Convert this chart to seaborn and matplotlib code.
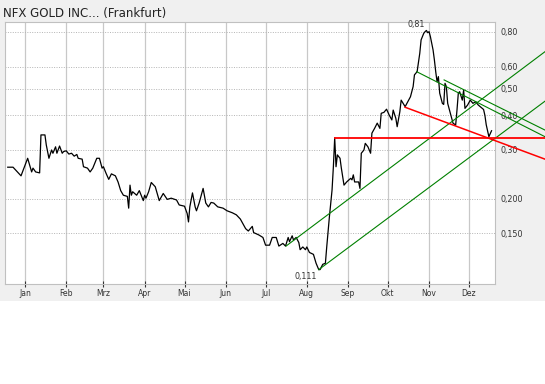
import numpy as np
import pandas as pd
import matplotlib
matplotlib.use("Agg")
import matplotlib.pyplot as plt
import matplotlib.dates as mdates
from matplotlib.ticker import FixedLocator, FixedFormatter, NullLocator, FuncFormatter
from matplotlib.patches import Rectangle
import seaborn as sns

# ---------------- data ----------------
title = "NFX GOLD INC... (Frankfurt)"
year_start = "2010-01-01"
month_labels = ["Jan", "Feb", "Mrz", "Apr", "Mai", "Jun",
                "Jul", "Aug", "Sep", "Okt", "Nov", "Dez"]

day_offsets = [1, 5, 11, 16, 19, 20, 22, 25, 26, 29, 30, 32, 34, 35, 37, 38, 40, 42, 43, 45,
               47, 49, 51, 53, 54, 57, 58, 61, 63, 65, 68, 70, 72, 73, 75, 77, 79, 82, 84, 86,
               88, 91, 92, 93, 94, 95, 98, 100, 103, 104, 105, 107, 109, 112, 115, 118, 121, 124, 128, 130,
               134, 136, 137, 138, 140, 142, 143, 145, 148, 150, 152, 154, 156, 159, 163, 166, 170, 173, 176, 180,
               182, 185, 186, 190, 193, 195, 198, 200, 203, 205, 208, 210, 212, 213, 215, 216, 218, 220, 221, 223,
               225, 226, 228, 231, 233, 235, 236, 238, 240, 241, 243, 245, 246, 247, 248, 249, 251, 252, 254, 256,
               259, 260, 261, 262, 265, 266, 267, 269, 270, 272, 274, 275, 277, 279, 281, 282, 284, 286, 288, 290,
               291, 293, 294, 296, 297, 300, 302, 304, 306, 307, 309, 311, 312, 314, 315, 316, 317, 318, 319, 321,
               322, 323, 324, 325, 326, 328, 329, 330, 331, 332, 334, 336, 338, 339, 340, 341, 343, 344, 345, 347,
               349, 351, 353, 355, 358, 359, 360, 361, 363, 365]
prices = [0.260, 0.260, 0.242, 0.280, 0.250, 0.258, 0.250, 0.248, 0.340, 0.340, 0.313, 0.280, 0.300, 0.292, 0.308, 0.292, 0.310, 0.292, 0.296, 0.298,
          0.290, 0.292, 0.285, 0.289, 0.280, 0.278, 0.261, 0.258, 0.250, 0.258, 0.280, 0.280, 0.258, 0.261, 0.247, 0.235, 0.246, 0.242, 0.230, 0.214,
          0.206, 0.204, 0.185, 0.224, 0.206, 0.212, 0.206, 0.214, 0.197, 0.206, 0.201, 0.212, 0.229, 0.221, 0.197, 0.209, 0.199, 0.201, 0.198, 0.190,
          0.188, 0.177, 0.165, 0.187, 0.210, 0.187, 0.181, 0.193, 0.218, 0.193, 0.187, 0.194, 0.193, 0.187, 0.185, 0.181, 0.178, 0.175, 0.169, 0.156,
          0.153, 0.159, 0.151, 0.148, 0.145, 0.136, 0.136, 0.145, 0.145, 0.135, 0.138, 0.135, 0.145, 0.140, 0.147, 0.142, 0.145, 0.139, 0.131, 0.134,
          0.131, 0.134, 0.128, 0.126, 0.117, 0.111, 0.111, 0.116, 0.117, 0.134, 0.172, 0.215, 0.261, 0.332, 0.261, 0.288, 0.280, 0.258, 0.224, 0.230,
          0.237, 0.234, 0.244, 0.230, 0.230, 0.218, 0.292, 0.300, 0.317, 0.308, 0.292, 0.345, 0.359, 0.375, 0.359, 0.407, 0.410, 0.421, 0.401, 0.385,
          0.418, 0.390, 0.364, 0.412, 0.454, 0.430, 0.448, 0.467, 0.508, 0.560, 0.575, 0.670, 0.749, 0.791, 0.802, 0.810, 0.795, 0.802, 0.769, 0.689,
          0.634, 0.575, 0.529, 0.552, 0.481, 0.442, 0.438, 0.522, 0.508, 0.442, 0.407, 0.375, 0.369, 0.418, 0.481, 0.487, 0.454, 0.494, 0.424, 0.436,
          0.454, 0.442, 0.448, 0.436, 0.424, 0.420, 0.400, 0.370, 0.335, 0.352]

y_ticks = [0.15, 0.2, 0.3, 0.4, 0.5, 0.6, 0.8]
y_tick_labels = ["0,150", "0,200", "0,30", "0,40", "0,50", "0,60", "0,80"]

# trend lines: day offsets and values of both ends
green_up_lower_days = [235, 405.2]
green_up_lower_vals = [0.111, 0.450]
green_up_upper_days = [210.4, 405.2]
green_up_upper_vals = [0.135, 0.679]
green_down_a_days = [308.7, 405.2]
green_down_a_vals = [0.575, 0.335]
green_down_b_days = [329.3, 405.2]
green_down_b_vals = [0.537, 0.354]
red_flat_days = [247, 405.2]
red_flat_vals = [0.332, 0.332]
red_down_days = [299.9, 405.2]
red_down_vals = [0.428, 0.278]

# ---------------- plot ----------------
W, H = 545, 384
fig = plt.figure(figsize=(W / 100, H / 100), dpi=100)
fig.patch.set_facecolor("white")
fig.patches.append(Rectangle((0, 1 - 301 / H), 1, 301 / H, transform=fig.transFigure,
                             facecolor="#f0f0f0", edgecolor="none", zorder=-10))

ax = fig.add_axes([5 / W, 1 - 284 / H, 490 / W, 262 / H])
ax.set_facecolor("white")

base = pd.Timestamp(year_start)
def to_dates(d):
    return base + pd.to_timedelta(np.asarray(d, dtype=float), unit="D")

df = pd.DataFrame({"date": to_dates(day_offsets), "price": prices})
sns.lineplot(data=df, x="date", y="price", ax=ax, color="black", linewidth=0.9, zorder=5)

for dd, vv, col, lw in [
    (green_up_lower_days, green_up_lower_vals, "#008000", 0.8),
    (green_up_upper_days, green_up_upper_vals, "#008000", 0.8),
    (green_down_a_days, green_down_a_vals, "#008000", 0.8),
    (green_down_b_days, green_down_b_vals, "#008000", 0.8),
    (red_flat_days, red_flat_vals, "#ff0000", 1.3),
    (red_down_days, red_down_vals, "#ff0000", 1.1),
]:
    ax.plot(to_dates(dd), vv, color=col, linewidth=lw, clip_on=False, zorder=6)

ax.set_yscale("log")
ax.set_ylim(0.0985, 0.869)
ax.set_xlim(base - pd.Timedelta(days=1.05), base + pd.Timedelta(days=367.6))

ax.yaxis.set_major_locator(FixedLocator(y_ticks))
ax.yaxis.set_major_formatter(FixedFormatter(y_tick_labels))
ax.yaxis.set_minor_locator(NullLocator())
ax.yaxis.tick_right()
ax.tick_params(axis="y", length=0, pad=4, labelsize=5.8, labelcolor="#333333")

ax.xaxis.set_major_locator(mdates.MonthLocator(bymonthday=15))
ax.xaxis.set_major_formatter(FuncFormatter(lambda x, pos: month_labels[mdates.num2date(x).month - 1]))
ax.xaxis.set_minor_locator(NullLocator())
ax.tick_params(axis="x", direction="inout", length=4, width=0.8, color="#333333",
               pad=1.5, labelsize=5.5, labelcolor="#333333")

ax.grid(axis="x", color="#c8c8c8", linewidth=0.9, linestyle="-", zorder=0)
ax.grid(axis="y", color="#b4b4b4", linewidth=0.7, linestyle=(0, (1, 1.5)), zorder=0)
ax.set_axisbelow(True)
for s in ax.spines.values():
    s.set_color("#c0c0c0")
    s.set_linewidth(0.8)
ax.set_xlabel("")
ax.set_ylabel("")

# max / min annotations
imax = int(np.argmax(prices))
imin = int(np.argmin(prices))
def fmt(v):
    return f"{v:.3g}".replace(".", ",")
ax.annotate(fmt(prices[imax]), xy=(df["date"][imax], prices[imax]), xytext=(-1, 1),
            textcoords="offset points", ha="right", va="bottom", fontsize=5.8, color="#333333", zorder=7)
ax.annotate(fmt(prices[imin]), xy=(df["date"][imin], prices[imin]), xytext=(-1, -2),
            textcoords="offset points", ha="right", va="top", fontsize=5.8, color="#333333", zorder=7)

fig.text(3 / W, 1 - 13 / H, title, ha="left", va="center", fontsize=8.5, color="#222222")

fig.savefig("out.png", dpi=100)
